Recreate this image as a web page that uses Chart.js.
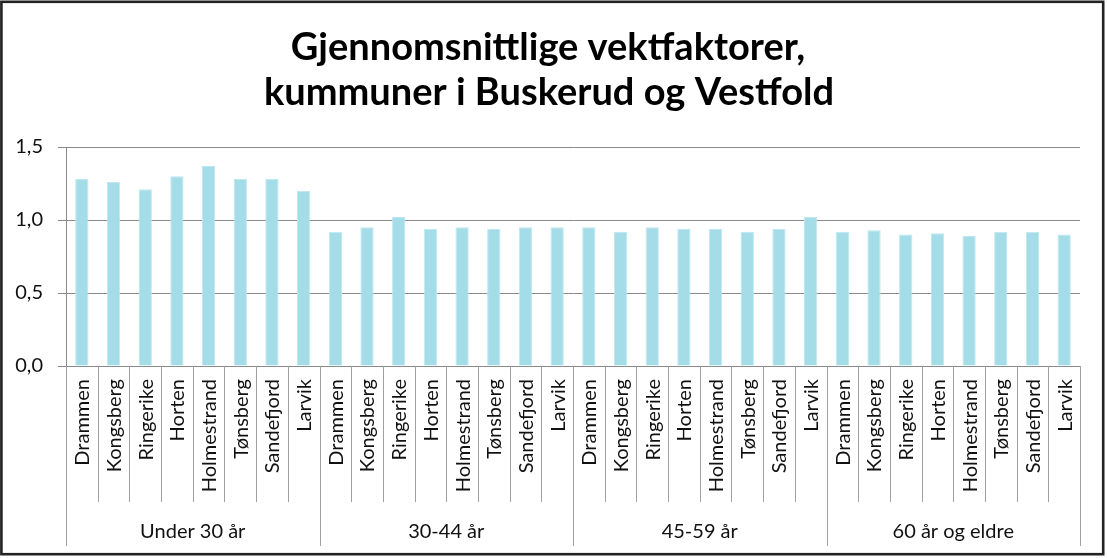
<!DOCTYPE html>
<html>
<head>
<meta charset="utf-8">
<script src="https://cdn.jsdelivr.net/npm/chart.js@4/dist/chart.umd.min.js"></script>
<style>
  html, body { margin: 0; padding: 0; background: #fff; }
  #wrap { width: 1107px; height: 558px; }
</style>
</head>
<body>
<div id="wrap"><canvas id="c" width="1107" height="558"></canvas></div>
<script>
// ---- data ----
const titleLines = ['Gjennomsnittlige vektfaktorer,', 'kummuner i Buskerud og Vestfold'];
const groups = ['Under 30 år', '30-44 år', '45-59 år', '60 år og eldre'];
const cities = ['Drammen', 'Kongsberg', 'Ringerike', 'Horten', 'Holmestrand', 'Tønsberg', 'Sandefjord', 'Larvik'];
const under30 = [1.28, 1.26, 1.21, 1.30, 1.37, 1.28, 1.28, 1.20];
const age3044 = [0.92, 0.95, 1.02, 0.94, 0.95, 0.94, 0.95, 0.95];
const age4559 = [0.95, 0.92, 0.95, 0.94, 0.94, 0.92, 0.94, 1.02];
const age60   = [0.92, 0.93, 0.90, 0.91, 0.89, 0.92, 0.92, 0.90];
const yTickLabels = ['0,0', '0,5', '1,0', '1,5'];

const seriesByGroup = [under30, age3044, age4559, age60];
const labels = [];
const values = [];
groups.forEach((g, gi) => {
  cities.forEach((c, ci) => {
    labels.push(c);
    values.push(seriesByGroup[gi][ci]);
  });
});

const FONT = 'Lato';
const GRID = '#8a8a8a';
const SEP = '#a0a0a0';

const decor = {
  id: 'decor',
  afterDraw(chart) {
    const ctx = chart.ctx;
    const xs = chart.scales.x;
    const area = chart.chartArea;
    const w = xs.getPixelForValue(1) - xs.getPixelForValue(0);
    const x0 = xs.getPixelForValue(0);
    ctx.save();
    // separators
    ctx.strokeStyle = SEP;
    ctx.lineWidth = 1;
    for (let i = 0; i <= labels.length; i++) {
      const px = Math.round(x0 + (i - 0.5) * w) + 0.5;
      const isGroup = i % cities.length === 0;
      ctx.beginPath();
      ctx.moveTo(px, area.bottom);
      ctx.lineTo(px, isGroup ? 546 : 502);
      ctx.stroke();
    }
    // category labels (rotated)
    ctx.fillStyle = '#111';
    ctx.font = '20px ' + FONT;
    ctx.textAlign = 'right';
    ctx.textBaseline = 'middle';
    labels.forEach((lab, i) => {
      const cx = xs.getPixelForValue(i);
      ctx.save();
      ctx.translate(cx + 1, 379);
      ctx.rotate(-Math.PI / 2);
      ctx.fillText(lab, 0, 0);
      ctx.restore();
    });
    // group labels
    ctx.textAlign = 'center';
    ctx.textBaseline = 'alphabetic';
    groups.forEach((g, gi) => {
      const a = xs.getPixelForValue(gi * cities.length);
      const b = xs.getPixelForValue((gi + 1) * cities.length - 1);
      ctx.fillText(g, (a + b) / 2, 538);
    });
    // title
    ctx.font = 'bold 38px ' + FONT;
    ctx.fillStyle = '#000';
    ctx.fillText(titleLines[0], 548, 60);
    ctx.fillText(titleLines[1], 549, 105);
    // frame
    ctx.strokeStyle = '#222';
    ctx.lineWidth = 2.6;
    ctx.strokeRect(1.4, 1.8, 1101.8, 552.4);
    ctx.restore();
  }
};

new Chart(document.getElementById('c'), {
  type: 'bar',
  data: {
    labels: labels,
    datasets: [{
      data: values,
      backgroundColor: 'rgb(164,221,231)',
      borderColor: 'rgb(190,232,240)',
      borderWidth: 1,
      barPercentage: 0.42,
      categoryPercentage: 1.0
    }]
  },
  options: {
    responsive: false,
    animation: false,
    devicePixelRatio: 1,
    layout: { padding: { top: 147, right: 27, bottom: 192, left: 0 } },
    plugins: { legend: { display: false }, title: { display: false }, tooltip: { enabled: false } },
    scales: {
      x: {
        grid: { display: false, drawTicks: false },
        ticks: { display: false },
        border: { display: true, color: GRID, width: 1 }
      },
      y: {
        min: 0, max: 1.5,
        afterFit(scale) { scale.width = 66; },
        ticks: {
          stepSize: 0.5,
          padding: 15,
          color: '#111',
          font: { family: FONT, size: 20 },
          callback: (v, i) => yTickLabels[i]
        },
        grid: { color: GRID, lineWidth: 1, drawTicks: true, tickLength: 8, tickColor: GRID },
        border: { display: true, color: GRID, width: 1 }
      }
    }
  },
  plugins: [decor]
});
</script>
</body>
</html>
